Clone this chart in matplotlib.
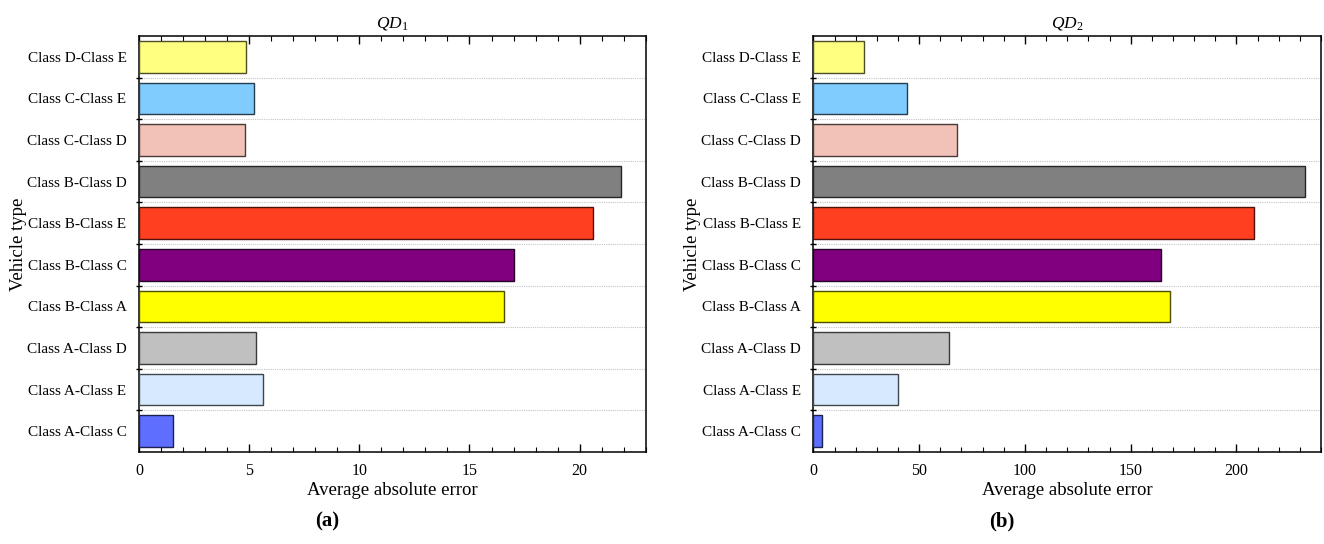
import matplotlib
matplotlib.use("Agg")
import matplotlib.pyplot as plt
from matplotlib.colors import to_rgb
from matplotlib.ticker import MultipleLocator, FixedLocator, NullFormatter

# categories from bottom to top
categories = [
    "Class A-Class C", "Class A-Class E", "Class A-Class D", "Class B-Class A",
    "Class B-Class C", "Class B-Class E", "Class B-Class D", "Class C-Class D",
    "Class C-Class E", "Class D-Class E",
]
qd1_values = [1.56, 5.65, 5.3, 16.55, 17.0, 20.6, 21.9, 4.82, 5.2, 4.84]
qd2_values = [4.0, 40.2, 64.3, 168.5, 164.5, 208.5, 232.5, 68.0, 44.0, 24.0]
bar_colors = [
    "#5E6EFF", "#D6E9FF", "#C0C0C0", "#FFFF00", "#800080",
    "#FF3F1F", "#808080", "#F2C2B8", "#80CCFF", "#FFFF80",
]

plt.rcParams["font.family"] = ["Liberation Serif", "DejaVu Serif"]
plt.rcParams["mathtext.fontset"] = "custom"
plt.rcParams["mathtext.it"] = "Liberation Serif:italic"
plt.rcParams["mathtext.rm"] = "Liberation Serif"

fig = plt.figure(figsize=(13.24, 5.44), dpi=100)

panels = [
    # axes rect, values, xlim, major, minor, title, caption, caption x
    ([0.105, 0.169, 0.3827, 0.7647], qd1_values, 23, 5, 1, r"$QD_1$", "(a)", 0.247),
    ([0.6144, 0.169, 0.3833, 0.7647], qd2_values, 240, 50, 10, r"$QD_2$", "(b)", 0.757),
]

edge_colors = [tuple(c * 0.3 for c in to_rgb(col)) for col in bar_colors]

for rect, values, xmax, major, minor, title, caption, cx in panels:
    ax = fig.add_axes(rect)
    ypos = list(range(len(categories)))
    ax.barh(ypos, values, height=0.76, color=bar_colors,
            edgecolor=edge_colors, linewidth=1.0, zorder=3)

    ax.set_xlim(0, xmax)
    ax.set_ylim(-0.5, len(categories) - 0.5)

    ax.xaxis.set_major_locator(MultipleLocator(major))
    ax.xaxis.set_minor_locator(MultipleLocator(minor))
    ax.tick_params(axis="x", which="major", direction="in", length=6,
                   width=1.0, top=True, labelsize=11.5, pad=8)
    ax.tick_params(axis="x", which="minor", direction="in", length=3.5,
                   width=0.8, top=True)

    ax.set_yticks(ypos)
    ax.set_yticklabels(categories)
    ax.yaxis.set_minor_locator(FixedLocator([i + 0.5 for i in ypos[:-1]]))
    ax.yaxis.set_minor_formatter(NullFormatter())
    ax.tick_params(axis="y", which="major", length=0, labelsize=11, pad=9)
    ax.tick_params(axis="y", which="minor", direction="inout", length=4.5,
                   width=1.0)
    ax.grid(True, axis="y", which="minor", linestyle=(0, (1, 1)),
            color="#c4c4c4", linewidth=0.8, zorder=0)

    for s in ax.spines.values():
        s.set_linewidth(1.1)

    ax.set_xlabel("Average absolute error", fontsize=13.5, labelpad=2)
    ax.set_ylabel("Vehicle type", fontsize=13.5, labelpad=0)
    ax.set_title(title, fontsize=12.5, pad=6)

    fig.text(cx, 0.042, caption, ha="center", va="center",
             fontsize=15, fontweight="bold")

fig.savefig("out.png", dpi=100)
